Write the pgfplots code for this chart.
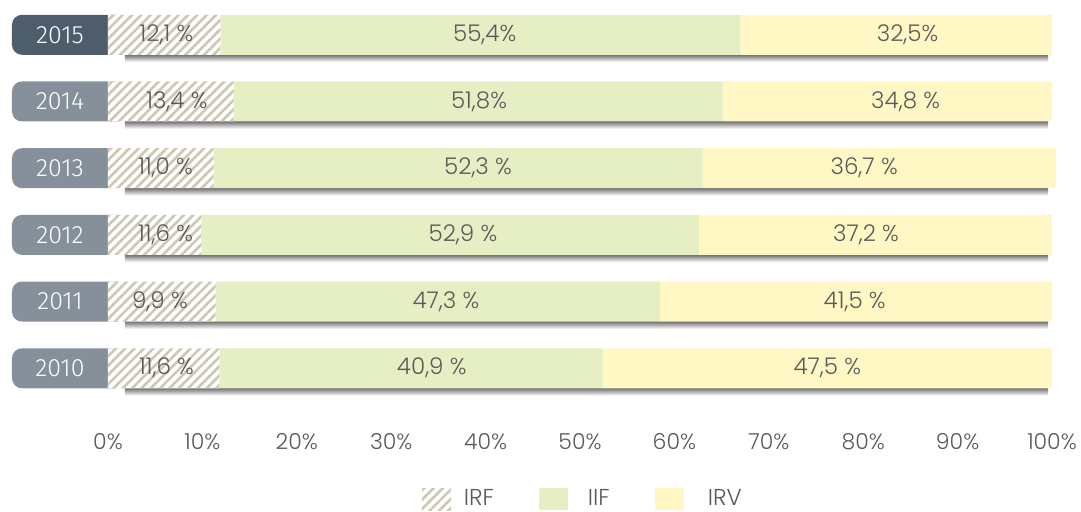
\documentclass[border=0pt]{standalone}
\usepackage{fontspec}
\setmainfont{Poppins Light}
\newfontfamily\yearfont[Numbers=Lining]{Fira Sans Light}
\usepackage{pgfplots}
\pgfplotsset{compat=1.18}
\usetikzlibrary{patterns.meta}
\pgfdeclarelayer{bg}
\pgfsetlayers{bg,main}

\definecolor{txt}{HTML}{5A5A5A}
\definecolor{hatch}{HTML}{CCC8B3}
\definecolor{iif}{HTML}{E6EEC3}
\definecolor{irv}{HTML}{FFF8C5}
\definecolor{yeardark}{HTML}{4E5D6C}
\definecolor{yeargray}{HTML}{86909B}

\tikzset{lbl/.style={text=txt, font=\fontsize{11.5}{13}\selectfont, anchor=center, inner sep=0pt}}

\begin{document}
\begin{tikzpicture}
\useasboundingbox (0,0) rectangle (540.5pt,-255.5pt);
\begin{axis}[
  at={(54pt,-0.7pt)}, anchor=north west,
  scale only axis, width=472pt, height=200.1pt,
  xmin=0, xmax=100, ymin=-0.5, ymax=5.5,
  xbar stacked, bar width=0.6,
  clip=false,
  axis line style={draw=none}, tick style={draw=none},
  xtick={0,10,...,100},
  xticklabels={0\%,10\%,20\%,30\%,40\%,50\%,60\%,70\%,80\%,90\%,100\%},
  xticklabel style={anchor=center, yshift=-20pt, text=txt, font=\fontsize{11}{13}\selectfont},
  ytick={0,...,5},
  yticklabels={2010,2011,2012,2013,2014,2015},
  yticklabel style={anchor=center, xshift=-24pt, text=white, font=\yearfont\fontsize{12.5}{14}\selectfont},
  legend columns=3,
  legend style={at={(axis cs:33.2,-0.5)}, anchor=west, yshift=-48.8pt, draw=none, fill=none,
    text=txt, font=\fontsize{11.5}{13}\selectfont, inner sep=0pt,
    nodes={inner sep=0pt},
    /tikz/every odd column/.append style={column sep=6.5pt},
    /tikz/every even column/.append style={column sep=22.5pt}},
  legend image code/.code={\fill[#1] (0pt,-5.5pt) rectangle (14.5pt,5.5pt);},
  after end axis/.code={
    % year boxes and bar shadows behind everything
    \begin{pgfonlayer}{bg}
    \pgfplotsinvokeforeach{0,...,5}{
      \shade[top color=black!55, bottom color=white] (axis cs:1.8,##1-0.3) rectangle (axis cs:99.6,##1-0.41);
    }
    \pgfplotsinvokeforeach{0,...,4}{
      \fill[yeargray, rounded corners=5pt] (axis cs:-10.17,##1-0.3) rectangle (axis cs:2,##1+0.3);
    }
    \fill[yeardark, rounded corners=5pt] (axis cs:-10.17,4.7) rectangle (axis cs:2,5.3);
    \end{pgfonlayer}
    % value labels on top of the bars
    \node[lbl] at (axis cs:6.2,5) {12,1 \%};
    \node[lbl] at (axis cs:39.9,5) {55,4\%};
    \node[lbl] at (axis cs:84.7,5) {32,5\%};
    \node[lbl] at (axis cs:7.3,4) {13,4 \%};
    \node[lbl] at (axis cs:39.3,4) {51,8\%};
    \node[lbl] at (axis cs:84.5,4) {34,8 \%};
    \node[lbl] at (axis cs:6.1,3) {11,0 \%};
    \node[lbl] at (axis cs:39.2,3) {52,3 \%};
    \node[lbl] at (axis cs:80.1,3) {36,7 \%};
    \node[lbl] at (axis cs:6.1,2) {11,6 \%};
    \node[lbl] at (axis cs:37.6,2) {52,9 \%};
    \node[lbl] at (axis cs:80.3,2) {37,2 \%};
    \node[lbl] at (axis cs:5.5,1) {9,9 \%};
    \node[lbl] at (axis cs:35.8,1) {47,3 \%};
    \node[lbl] at (axis cs:79.1,1) {41,5 \%};
    \node[lbl] at (axis cs:6.2,0) {11,6 \%};
    \node[lbl] at (axis cs:34.3,0) {40,9 \%};
    \node[lbl] at (axis cs:76.2,0) {47,5 \%};
  },
]
% IRF
\addplot[fill=white, draw=none,
  postaction={pattern={Lines[angle=45,distance=3.3pt,line width=1.3pt]}, pattern color=hatch}]
  coordinates {(11.8,0) (11.4,1) (9.9,2) (11.2,3) (13.3,4) (11.9,5)};
\addlegendentry{IRF}
% IIF
\addplot[fill=iif, draw=none]
  coordinates {(40.6,0) (47.1,1) (52.7,2) (51.8,3) (51.8,4) (55.1,5)};
\addlegendentry{\hspace{3.5pt}IIF}
% IRV
\addplot[fill=irv, draw=none]
  coordinates {(47.6,0) (41.5,1) (37.4,2) (37.4,3) (34.9,4) (33.0,5)};
\addlegendentry{\hspace{5.5pt}IRV}
\end{axis}
\end{tikzpicture}
\end{document}
